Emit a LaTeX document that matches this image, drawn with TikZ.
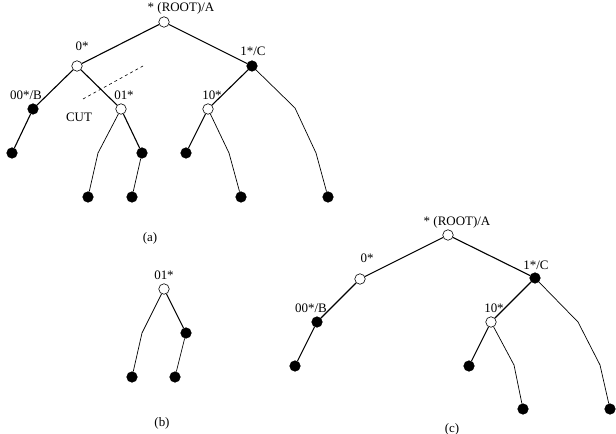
\documentclass[tikz,border=0pt]{standalone}
\usepackage{fontspec}
\setmainfont{Liberation Serif}
\usetikzlibrary{positioning, calc}
\tikzset{%
	vtx/.style={draw, circle, minimum size=10.5bp, inner sep=0mm, line width=0.6bp},
	open/.style={fill=white},
	full/.style={fill=black},
	edge/.style={line width=1.1bp},
	kink/.style={line width=0.7bp},
	cut/.style={dashed, line width=0.6bp},
	lbl/.style={inner sep=0pt}
}
\begin{document}
\begin{tikzpicture}[x=1bp, y=-1bp, font=\fontsize{13}{15}\selectfont]
	\useasboundingbox (0,0) rectangle (616,434);

	% (a)
	\node[vtx, open] (ra) at (164,22) {};
	\node[vtx, open] (a0) at (77,66) {};
	\node[vtx, full] (a1) at (252,66) {};
	\node[vtx, full] (a00) at (33,109) {};
	\node[vtx, open] (a01) at (121,109) {};
	\node[vtx, open] (a10) at (208,109) {};
	\node[vtx, full] (a00l) at (12,153) {};
	\node[vtx, full] (a01r) at (142,153) {};
	\node[vtx, full] (a01l) at (88,197) {};
	\node[vtx, full] (a01rl) at (132,197) {};
	\node[vtx, full] (a10l) at (186,153) {};
	\node[vtx, full] (a10r) at (241,197) {};
	\node[vtx, full] (a1r) at (328,197) {};
	\coordinate (a01k) at (98,153);
	\coordinate (a10k) at (229,153);
	\coordinate (a1k1) at (295,108);
	\coordinate (a1k2) at (316,153);
	\coordinate (cut1) at (83,99);
	\coordinate (cut2) at (143,66);

	\node[lbl] (lra) at (181,8) {* (ROOT)/A};
	\node[lbl] (la0) at (82,46) {0*};
	\node[lbl] (la1) at (253,51) {1*/C};
	\node[lbl] (la00) at (26,95) {00*/B};
	\node[lbl] (la01) at (124,95) {01*};
	\node[lbl] (la10) at (212,95) {10*};
	\node[lbl] (lcut) at (79,117) {CUT};
	\node[lbl] (capa) at (150,238) {(a)};

	\draw[edge] (ra) -- (a0);
	\draw[edge] (ra) -- (a1);
	\draw[edge] (a0) -- (a00);
	\draw[edge] (a0) -- (a01);
	\draw[edge] (a00) -- (a00l);
	\draw[edge] (a01) -- (a01r);
	\draw[kink] (a01) -- (a01k) -- (a01l);
	\draw[kink] (a01r) -- (a01rl);
	\draw[edge] (a1) -- (a10);
	\draw[edge] (a10) -- (a10l);
	\draw[kink] (a10) -- (a10k) -- (a10r);
	\draw[kink] (a1) -- (a1k1) -- (a1k2) -- (a1r);
	\draw[cut] (cut1) -- (cut2);

	% (b)
	\node[vtx, open] (b01) at (164,289) {};
	\node[vtx, full] (br) at (186,333) {};
	\node[vtx, full] (bl) at (132,377) {};
	\node[vtx, full] (brl) at (175,377) {};
	\coordinate (bk) at (142,333);

	\node[lbl] (lb01) at (164,275) {01*};
	\node[lbl] (capb) at (162,423) {(b)};

	\draw[kink] (b01) -- (bk) -- (bl);
	\draw[edge] (b01) -- (br);
	\draw[kink] (br) -- (brl);

	% (c)
	\node[vtx, open] (rc) at (448,235) {};
	\node[vtx, open] (c0) at (360,279) {};
	\node[vtx, full] (c1) at (535,278) {};
	\node[vtx, full] (c00) at (317,322) {};
	\node[vtx, open] (c10) at (491,322) {};
	\node[vtx, full] (c00l) at (295,366) {};
	\node[vtx, full] (c10l) at (469,366) {};
	\node[vtx, full] (c10r) at (523,409) {};
	\node[vtx, full] (c1r) at (610,409) {};
	\coordinate (c10k) at (514,365);
	\coordinate (c1k1) at (578,322);
	\coordinate (c1k2) at (600,365);

	\node[lbl] (lrc) at (457,222) {* (ROOT)/A};
	\node[lbl] (lc0) at (367,258) {0*};
	\node[lbl] (lc1) at (536,265) {1*/C};
	\node[lbl] (lc00) at (311,308) {00*/B};
	\node[lbl] (lc10) at (494,308) {10*};
	\node[lbl] (capc) at (452,429) {(c)};

	\draw[edge] (rc) -- (c0);
	\draw[edge] (rc) -- (c1);
	\draw[edge] (c0) -- (c00);
	\draw[edge] (c00) -- (c00l);
	\draw[edge] (c1) -- (c10);
	\draw[edge] (c10) -- (c10l);
	\draw[kink] (c10) -- (c10k) -- (c10r);
	\draw[kink] (c1) -- (c1k1) -- (c1k2) -- (c1r);
\end{tikzpicture}
\end{document}
